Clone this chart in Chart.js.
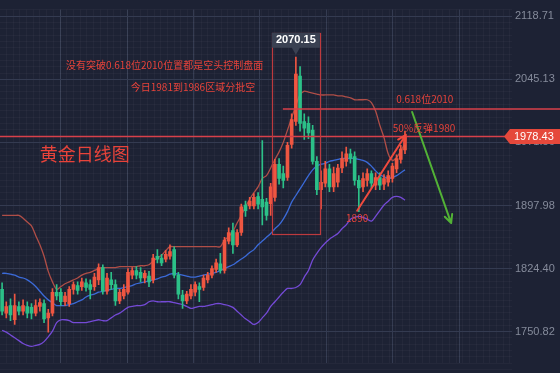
<!DOCTYPE html>
<html><head><meta charset="utf-8">
<script src="https://cdn.jsdelivr.net/npm/chart.js@4.4.0/dist/chart.umd.min.js"></script>
<style>html,body{margin:0;padding:0;background:#1d2234;overflow:hidden}canvas{display:block}</style>
</head><body>
<canvas id="c" width="560" height="373"></canvas>
<script>
// ---- data (daily gold candles, newest last) ----
const N_SLOTS = 122; // category slots: 97 candles + empty room on the right
const opens = [1800.1,1772.4,1781.3,1764.7,1780.2,1774.7,1780.2,1779.1,1772.4,1780.2,
 1783.5,1766.9,1772.4,1796.8,1796.8,1785.7,1783.5,1800.1,1804.5,1803.4,
 1807.8,1805.6,1803.4,1811.2,1825.5,1797.9,1811.2,1805.6,1786.8,1792.4,
 1796.8,1816.7,1822.2,1820.0,1813.4,1815.6,1811.2,1838.8,1836.6,1835.5,
 1838.8,1846.5,1816.7,1793.5,1786.8,1792.4,1796.8,1803.4,1802.3,1811.2,
 1816.7,1823.3,1829.9,1822.2,1856.5,1868.7,1852.1,1866.5,1898.5,1897.4,
 1897.4,1908.5,1905.2,1901.9,1900.0,1907.4,1946.1,1935.1,1930.6,1969.3,
 1995.9,2049.0,1995.9,1993.7,1985.9,1949.5,1916.3,1923.9,1940.6,1919.6,
 1925.1,1941.7,1949.5,1958.3,1955.0,1927.3,1919.6,1927.3,1935.1,1921.7,
 1930.6,1922.8,1925.1,1929.5,1940.6,1951.7,1962.7];
const highs = [1807.8,1785.7,1789.0,1794.6,1785.7,1787.9,1785.7,1783.5,1787.9,1789.0,
 1787.9,1776.9,1801.2,1805.6,1801.2,1796.8,1803.4,1808.9,1808.9,1813.4,
 1812.3,1811.2,1818.9,1829.9,1828.8,1818.9,1820.0,1811.2,1800.1,1805.6,
 1824.4,1825.5,1826.6,1825.5,1822.2,1821.1,1841.0,1846.5,1841.0,1845.4,
 1852.1,1849.9,1820.0,1799.0,1797.9,1805.6,1808.9,1807.8,1816.7,1820.0,
 1827.7,1835.5,1842.1,1860.9,1872.0,1877.5,1869.8,1899.6,1903.0,1907.4,
 1911.8,1912.9,1973.8,1906.3,1923.9,1951.7,1952.8,1943.9,1971.6,2004.8,
 2071.1,2060.1,2004.8,2001.4,1991.5,1955.0,1938.4,1949.5,1946.1,1942.8,
 1946.1,1960.5,1966.0,1963.8,1960.5,1932.8,1936.2,1940.6,1938.4,1936.2,
 1936.2,1933.9,1938.4,1947.2,1957.2,1968.2,1984.8];
const lows = [1770.2,1766.9,1763.6,1759.2,1770.2,1770.2,1766.9,1765.8,1769.1,1774.7,
 1761.4,1750.3,1769.1,1787.9,1781.3,1781.3,1780.2,1794.6,1794.6,1799.0,
 1797.9,1789.0,1799.0,1805.6,1794.6,1794.6,1800.1,1781.3,1783.5,1789.0,
 1794.6,1812.3,1812.3,1808.9,1807.8,1803.4,1807.8,1831.0,1827.7,1832.2,
 1835.5,1813.4,1789.0,1778.0,1783.5,1789.0,1792.4,1785.7,1799.0,1807.8,
 1813.4,1820.0,1818.9,1818.9,1853.2,1842.1,1849.9,1863.1,1885.3,1894.1,
 1894.1,1894.1,1875.3,1880.9,1886.4,1903.0,1922.8,1918.5,1927.3,1964.9,
 1991.5,1984.8,1974.9,1975.9,1946.1,1910.7,1894.1,1919.6,1914.0,1914.0,
 1919.6,1936.2,1943.9,1947.2,1921.7,1890.8,1914.0,1920.6,1918.5,1916.3,
 1916.3,1916.3,1920.6,1925.1,1936.2,1947.2,1958.3];
const closes = [1774.7,1780.2,1770.2,1781.3,1774.7,1781.3,1772.4,1772.4,1781.3,1784.6,
 1765.8,1772.4,1796.8,1792.4,1785.7,1792.4,1800.1,1805.6,1799.0,1808.9,
 1802.3,1800.1,1814.5,1825.5,1797.9,1813.4,1805.6,1786.8,1796.8,1800.1,
 1820.0,1822.2,1816.7,1813.4,1818.9,1808.9,1836.6,1835.5,1831.0,1841.0,
 1844.3,1816.7,1794.6,1786.8,1794.6,1800.1,1805.6,1800.1,1813.4,1816.7,
 1824.4,1831.0,1822.2,1857.6,1866.5,1852.1,1866.5,1896.3,1891.9,1903.0,
 1907.4,1899.6,1896.3,1886.4,1919.6,1946.1,1929.5,1927.3,1968.2,1998.1,
 2051.2,1993.7,1988.2,1982.6,1949.5,1916.3,1925.1,1940.6,1919.6,1935.1,
 1941.7,1952.8,1958.3,1952.8,1927.3,1918.5,1929.5,1935.1,1923.9,1930.6,
 1921.7,1929.5,1932.8,1943.9,1952.8,1963.8,1978.43];
const bollUpper = [1886.4,1886.4,1886.4,1886.4,1886.4,1883.1,1878.6,1874.2,1863.1,1852.1,
 1838.8,1821.1,1808.9,1800.1,1803.4,1806.7,1808.9,1811.2,1813.4,1816.7,
 1818.9,1820.0,1822.2,1824.4,1825.5,1825.5,1825.5,1825.5,1826.6,1826.6,
 1826.6,1826.6,1826.6,1827.7,1827.7,1828.8,1833.3,1836.6,1839.9,1845.4,
 1849.9,1849.9,1849.9,1849.9,1849.9,1849.9,1849.9,1849.9,1849.9,1849.9,
 1849.9,1849.9,1849.9,1857.6,1862.0,1867.6,1877.5,1886.4,1896.3,1905.2,
 1912.9,1919.6,1929.5,1932.8,1941.7,1951.7,1960.5,1971.6,1985.9,2000.3,
 2014.7,2026.9,2031.3,2030.2,2029.1,2028.0,2026.9,2026.9,2026.9,2026.9,
 2025.8,2025.8,2024.7,2023.6,2021.3,2021.3,2021.3,2021.3,2018.0,2008.1,
 1991.5,1977.1,1958.3,1950.5,1953.9,1961.6,1970.5];
const bollMid = [1818.9,1818.9,1817.8,1816.7,1814.5,1813.4,1811.2,1807.8,1803.4,1797.9,
 1792.4,1787.9,1784.6,1781.3,1781.3,1781.3,1782.4,1783.5,1785.7,1787.9,
 1791.3,1793.5,1794.6,1796.8,1797.9,1799.0,1800.1,1801.2,1801.2,1802.3,
 1803.4,1804.5,1806.7,1807.8,1808.9,1810.1,1811.2,1812.3,1814.5,1815.6,
 1817.8,1818.9,1817.8,1816.7,1815.6,1814.5,1814.5,1815.6,1816.7,1817.8,
 1818.9,1820.0,1822.2,1824.4,1826.6,1828.8,1832.2,1835.5,1838.8,1843.2,
 1846.5,1852.1,1856.5,1860.9,1865.4,1870.9,1875.3,1882.0,1890.8,1901.9,
 1909.6,1917.4,1925.1,1932.8,1939.5,1943.9,1946.1,1947.2,1949.5,1950.5,
 1951.7,1952.8,1952.8,1952.8,1952.8,1951.7,1950.5,1948.3,1943.9,1938.4,
 1933.9,1931.7,1929.5,1930.6,1932.8,1936.2,1939.5];
const bollLower = [1752.5,1750.3,1747.0,1743.7,1740.4,1737.0,1734.8,1733.7,1734.8,1735.9,
 1739.2,1744.8,1751.4,1761.4,1764.7,1764.7,1763.6,1761.4,1761.4,1761.4,
 1761.4,1762.5,1763.6,1764.7,1763.6,1763.6,1766.9,1770.2,1772.4,1775.8,
 1779.1,1780.2,1781.3,1781.3,1782.4,1785.7,1786.8,1785.7,1785.7,1785.7,
 1785.7,1784.6,1783.5,1782.4,1780.2,1778.0,1779.1,1780.2,1780.2,1781.3,
 1782.4,1783.5,1783.5,1782.4,1781.3,1779.1,1774.7,1770.2,1765.8,1762.5,
 1759.2,1761.4,1766.9,1772.4,1780.2,1785.7,1791.3,1796.8,1801.2,1801.2,
 1802.3,1805.6,1814.5,1822.2,1834.4,1842.1,1848.8,1854.3,1858.7,1862.0,
 1865.4,1870.9,1875.3,1882.0,1884.2,1885.3,1884.2,1882.0,1879.7,1885.3,
 1891.9,1898.5,1903.0,1907.4,1908.5,1907.4,1904.1];
const priceTicks = [1750.82, 1824.40, 1897.98, 1971.56, 2045.13, 2118.71];
const Y_MIN = 1713.8, Y_MAX = 2126.45;
const gridIdx = [13.8, 29.8, 45.5, 61.4, 77.4, 93.1, 109.1];
const lastPrice = 1978.43;
const fibLevel = 2010;
const peakIdx = 70, peakPrice = 2070.15;
const notes = [
  {text:'没有突破0.618位2010位置都是空头控制盘面', at:62.2, price:2061.2, align:'right', size:10},
  {text:'今日1981到1986区域分批空', at:60.3, price:2035.7, align:'right', size:10},
  {text:'黄金日线图', at:9.0, price:1958.3, align:'left', size:18},
  {text:'0.618位2010', at:93.9, price:2022.4, align:'left', size:10},
  {text:'50%反弹1980', at:93.1, price:1988.2, align:'left', size:10},
  {text:'1890', at:84.6, price:1883.1, align:'center', size:10}
];
const zoneBox = {from:64.3, to:75.7, top:2098.8, bottom:1864.3};
const upArrow = {from:[84.6, 1891.9], to:[96.2, 1980.4]};
const downArrow = {from:[97.7, 2007.0], to:[107.0, 1877.5]};
const fibStart = 66.9;

// ---- styles ----
const UP = '#ef5641', DOWN = '#2cc088', TXT = '#e8433a', BG = '#1d2234', LINE_RED = '#d8404a';
const labels = Array.from({length: N_SLOTS}, (_, i) => 'D' + (i + 1));
const candleColors = opens.map((o, i) => closes[i] >= o ? UP : DOWN);

function arrow(ctx, x1, y1, x2, y2, color) {
  const a = Math.atan2(y2 - y1, x2 - x1), L = 9, w = 0.45;
  ctx.save(); ctx.strokeStyle = color; ctx.lineWidth = 2; ctx.lineCap = 'round';
  ctx.beginPath(); ctx.moveTo(x1, y1); ctx.lineTo(x2, y2);
  ctx.moveTo(x2, y2); ctx.lineTo(x2 - L * Math.cos(a - w), y2 - L * Math.sin(a - w));
  ctx.moveTo(x2, y2); ctx.lineTo(x2 - L * Math.cos(a + w), y2 - L * Math.sin(a + w));
  ctx.stroke(); ctx.restore();
}

const decor = {
  id: 'decor',
  beforeDraw(chart) {
    const c = chart.ctx; c.save(); c.fillStyle = BG; c.fillRect(0, 0, chart.width, chart.height); c.restore();
  },
  afterDatasetsDraw(chart) {
    const c = chart.ctx, xs = chart.scales.xg, ys = chart.scales.y, ca = chart.chartArea;
    const X = v => xs.getPixelForValue(v), Y = v => ys.getPixelForValue(v);
    c.save();
    c.strokeStyle = LINE_RED; c.lineWidth = 1.3;
    // last price line
    let y = Y(lastPrice);
    c.beginPath(); c.moveTo(ca.left, y); c.lineTo(chart.width, y); c.stroke();
    // 0.618 level line
    y = Math.round(Y(fibLevel));
    c.beginPath(); c.moveTo(X(fibStart), y); c.lineTo(chart.width, y); c.stroke();
    // zone box
    c.strokeStyle = '#bd3a3e'; c.lineWidth = 1.2;
    c.strokeRect(Math.round(X(zoneBox.from)) + 0.5, Math.round(Y(zoneBox.top)) + 0.5,
      Math.round(X(zoneBox.to) - X(zoneBox.from)), Math.round(Y(zoneBox.bottom) - Y(zoneBox.top)));
    // arrows
    arrow(c, X(upArrow.from[0]), Y(upArrow.from[1]), X(upArrow.to[0]), Y(upArrow.to[1]), '#f04a3e');
    arrow(c, X(downArrow.from[0]), Y(downArrow.from[1]), X(downArrow.to[0]), Y(downArrow.to[1]), '#52b236');
    // texts
    c.textBaseline = 'middle'; c.fillStyle = TXT;
    notes.forEach(n => {
      c.font = n.size + 'px "Noto Sans CJK SC", sans-serif';
      c.textAlign = n.align;
      c.fillText(n.text, X(n.at), Y(n.price));
    });
    // peak label
    const px = X(peakIdx), tip = Y(peakPrice) - 3;
    c.fillStyle = '#3a4152';
    c.beginPath(); c.moveTo(px - 24, tip - 22); c.lineTo(px + 24, tip - 22); c.lineTo(px + 24, tip - 7);
    c.lineTo(px + 4, tip - 7); c.lineTo(px, tip); c.lineTo(px - 4, tip - 7); c.lineTo(px - 24, tip - 7); c.closePath(); c.fill();
    c.fillStyle = '#ffffff'; c.font = 'bold 11px "Liberation Sans", Arial, sans-serif'; c.textAlign = 'center';
    c.fillText(peakPrice.toFixed(2), px, tip - 14.5);
    c.restore();
  },
  afterDraw(chart) {
    const c = chart.ctx, ys = chart.scales.y, ca = chart.chartArea;
    const y = ys.getPixelForValue(lastPrice);
    c.save();
    c.fillStyle = '#e5483b';
    const l = ca.right - 8, b = ca.right - 2;
    c.beginPath(); c.moveTo(l, y); c.lineTo(b, y - 7.5); c.lineTo(chart.width, y - 7.5);
    c.lineTo(chart.width, y + 7.5); c.lineTo(b, y + 7.5); c.closePath(); c.fill();
    c.fillStyle = '#ffffff'; c.font = '11px "Liberation Sans", Arial, sans-serif';
    c.textAlign = 'left'; c.textBaseline = 'middle';
    c.fillText(lastPrice.toFixed(2), ca.right + 2, y + 0.5);
    c.restore();
  }
};

const minorX = {
  type: 'linear', position: 'bottom', min: -0.5, max: N_SLOTS - 0.5, display: true,
  ticks: {display: false}, border: {display: false},
  grid: {color: 'rgba(255,255,255,0.03)', drawTicks: false},
  afterBuildTicks(s) {
    const step = (gridIdx[1] - gridIdx[0]) / 10, t = [];
    for (let v = gridIdx[0] - 10 * step; v <= N_SLOTS; v += step) t.push({value: v});
    s.ticks = t;
  },
  afterFit(s) { s.height = 0; }
};
const minorY = {
  type: 'linear', position: 'left', min: Y_MIN, max: Y_MAX, display: true,
  ticks: {display: false}, border: {display: false},
  grid: {color: 'rgba(255,255,255,0.03)', drawTicks: false},
  afterBuildTicks(s) {
    const step = (priceTicks[1] - priceTicks[0]) / 10, t = [];
    for (let v = priceTicks[0] - 6 * step; v <= Y_MAX; v += step) t.push({value: v});
    s.ticks = t;
  },
  afterFit(s) { s.width = 0; }
};

new Chart(document.getElementById('c'), {
  data: {
    labels,
    datasets: [
      {type: 'line', label: 'UP', data: bollUpper, borderColor: '#b04e47', borderWidth: 1.3, pointRadius: 0, tension: 0.3, order: 5, xAxisID: 'x', yAxisID: 'y'},
      {type: 'line', label: 'MID', data: bollMid, borderColor: '#3b6ad8', borderWidth: 1.3, pointRadius: 0, tension: 0.3, order: 5, xAxisID: 'x', yAxisID: 'y'},
      {type: 'line', label: 'DN', data: bollLower, borderColor: '#744ad6', borderWidth: 1.3, pointRadius: 0, tension: 0.3, order: 5, xAxisID: 'x', yAxisID: 'y'},
      {type: 'bar', label: 'wick', data: lows.map((l, i) => [l, highs[i]]), backgroundColor: candleColors,
       barThickness: 1, grouped: false, order: 2, xAxisID: 'x', yAxisID: 'y'},
      {type: 'bar', label: 'body', data: opens.map((o, i) => [o, closes[i]]), backgroundColor: candleColors,
       barThickness: 3, minBarLength: 1, grouped: false, order: 1, xAxisID: 'x', yAxisID: 'y'}
    ]
  },
  options: {
    responsive: false, animation: false, devicePixelRatio: 1,
    layout: {padding: 0},
    plugins: {legend: {display: false}, tooltip: {enabled: false}},
    scales: {
      x: {type: 'category', display: false, offset: true, grid: {display: false}},
      xg: {
        type: 'linear', position: 'bottom', min: -0.5, max: N_SLOTS - 0.5, display: true,
        ticks: {display: false}, border: {display: false},
        grid: {color: '#343b51', drawTicks: false},
        afterBuildTicks(s) { s.ticks = gridIdx.map(v => ({value: v})); },
        afterFit(s) { s.height = 0; }
      },
      xm: minorX,
      ym: minorY,
      y: {
        type: 'linear', position: 'right', min: Y_MIN, max: Y_MAX,
        border: {display: false},
        grid: {color: '#343b51', drawTicks: false},
        ticks: {color: '#858b9b', padding: 3, font: {size: 11, family: '"Liberation Sans", Arial, sans-serif'},
                callback: v => v.toFixed(2)},
        afterBuildTicks(s) { s.ticks = priceTicks.map(v => ({value: v})); },
        afterFit(s) { s.width = 48; }
      }
    }
  },
  plugins: [decor]
});
</script>
</body></html>
